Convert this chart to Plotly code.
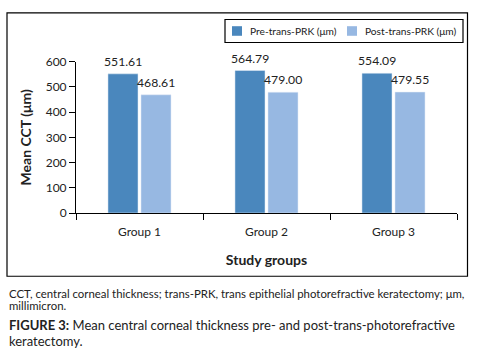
import plotly.graph_objects as go

categories = ["Group 1", "Group 2", "Group 3"]
pre_values = [551.61, 564.79, 554.09]
post_values = [468.61, 479.00, 479.55]
pre_name = "Pre-trans-PRK (μm)"
post_name = "Post-trans-PRK (μm)"
y_ticks = [0, 100, 200, 300, 400, 500, 600]

W, H = 493, 357
FONT = "Lato, 'Open Sans', sans-serif"
TXT = "#222222"
PRE_C = "#4A87BD"
POST_C = "#97B8E2"
BARGAP = 0.48
BARGROUPGAP = 0.09

def px(x):
    return x / W

def py(y):
    return 1 - y / H

fig = go.Figure()
fig.add_bar(x=categories, y=pre_values, name=pre_name, marker_color=PRE_C)
fig.add_bar(x=categories, y=post_values, name=post_name, marker_color=POST_C)

# value labels above bars, positioned through the axes
offset = (1 - BARGAP) / 4
for i, (a, b) in enumerate(zip(pre_values, post_values)):
    for xv, v in ((i - offset, a), (i + offset, b)):
        fig.add_annotation(x=xv, y=v, xref="x", yref="y", text=f"{v:.2f}",
                           showarrow=False, yanchor="bottom", yshift=3,
                           font=dict(size=12.2, color=TXT, family=FONT))

fig.update_layout(
    width=W, height=H,
    margin=dict(l=0, r=0, t=0, b=0),
    paper_bgcolor="white", plot_bgcolor="white",
    font=dict(family=FONT, color=TXT, size=12),
    barmode="group", bargap=BARGAP, bargroupgap=BARGROUPGAP,
    showlegend=False,
    xaxis=dict(domain=[px(76), px(457)], range=[-0.5, 2.5], showline=True,
               linecolor="black", linewidth=1, ticks="outside", tickson="boundaries",
               ticklen=6, tickcolor="black", showgrid=False,
               tickfont=dict(size=12), ticklabelstandoff=8,
               title=dict(text="<b>Study groups</b>", font=dict(size=14), standoff=16)),
    yaxis=dict(domain=[py(214), py(56)], range=[0, 600], tickvals=y_ticks,
               showline=True, linecolor="black", linewidth=1, ticks="outside",
               ticklen=6, tickcolor="black", showgrid=False, zeroline=False,
               tickfont=dict(size=12),
               title=dict(text="<b>Mean CCT (μm)</b>", font=dict(size=14), standoff=10)),
)

# outer frame around the chart
fig.add_shape(type="rect", xref="paper", yref="paper",
              x0=px(7), x1=px(467.5), y0=py(280), y1=py(5),
              line=dict(color="black", width=1.2))

# legend box (drawn manually to match the compact layout)
fig.add_shape(type="rect", xref="paper", yref="paper",
              x0=px(225), x1=px(463), y0=py(36), y1=py(12),
              line=dict(color="black", width=1.2), fillcolor="white")
for (sx, tx, color, name) in [(232, 248, PRE_C, pre_name), (347, 363, POST_C, post_name)]:
    fig.add_shape(type="rect", xref="paper", yref="paper",
                  x0=px(sx), x1=px(sx + 10), y0=py(29), y1=py(19),
                  line=dict(width=0), fillcolor=color)
    fig.add_annotation(text=name, xref="paper", yref="paper", x=px(tx), y=py(24),
                       xanchor="left", yanchor="middle", showarrow=False,
                       font=dict(size=10.2, color=TXT, family=FONT))

captions = [
    ("CCT, central corneal thickness; trans-PRK, trans epithelial photorefractive keratectomy; μm,", 298, 11.4),
    ("millimicron.", 311, 11.4),
    ("<b>FIGURE 3:</b> Mean central corneal thickness pre- and post-trans-photorefractive", 331, 13),
    ("keratectomy.", 348, 13),
]
for text, y, size in captions:
    fig.add_annotation(text=text, xref="paper", yref="paper", x=px(7), y=py(y),
                       xanchor="left", yanchor="middle", showarrow=False,
                       font=dict(size=size, color=TXT, family=FONT))

fig.write_html("out.html", config={"displayModeBar": False},
               post_script="document.body.style.margin='0';document.body.style.padding='0';")
